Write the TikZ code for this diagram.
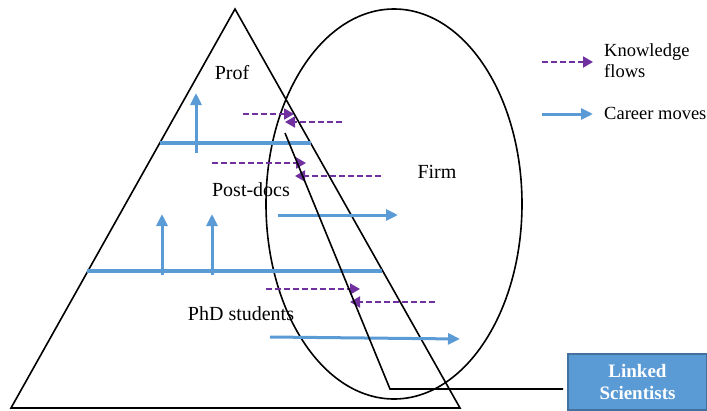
\documentclass[tikz,border=0pt]{standalone}
\usepackage{fontspec}
\setmainfont{Liberation Serif}
\usetikzlibrary{arrows.meta,shapes.geometric}
\definecolor{cblue}{HTML}{5B9BD5}
\definecolor{cblueedge}{HTML}{41719C}
\definecolor{cpurple}{HTML}{7030A0}
\tikzset{
  outline/.style={draw=black, line width=1.6pt},
  career/.style={draw=cblue, line width=3pt, -{Triangle[length=12pt,width=11pt]}},
  level/.style={draw=cblue, line width=3.2pt},
  know/.style={draw=cpurple, line width=2pt, dash pattern=on 6pt off 3pt, -{Triangle[length=10pt,width=11pt]}},
  lbl/.style={font=\fontsize{20}{22}\selectfont, inner sep=0pt},
  leg/.style={font=\fontsize{18.5}{21}\selectfont, inner sep=0pt, align=left, anchor=west},
  linkbox/.style={draw=cblueedge, fill=cblue, line width=1.5pt, minimum width=139pt, minimum height=56pt, inner sep=0pt, text=white, font=\bfseries\fontsize{19}{22}\selectfont, align=center}
}
\begin{document}
\begin{tikzpicture}[x=1pt,y=-1pt]
\useasboundingbox (0,0) rectangle (707,410);
% pyramid
\coordinate (apex) at (235,9);
\coordinate (bl) at (11,408);
\coordinate (br) at (460,408);
\draw[outline, line join=miter] (apex) -- (bl) -- (br) -- cycle;
% firm ellipse
\node[ellipse, draw=black, line width=1.6pt, minimum width=256pt, minimum height=390pt, inner sep=0pt] (firm) at (394,204) {};
% level lines
\coordinate (l1a) at (160,143); \coordinate (l1b) at (311,143);
\coordinate (l2a) at (87,271); \coordinate (l2b) at (382,271);
\draw[level] (l1a) -- (l1b);
\draw[level] (l2a) -- (l2b);
% vertical career moves
\coordinate (v1a) at (196,153); \coordinate (v1b) at (196,93);
\coordinate (v2a) at (162,275); \coordinate (v2b) at (162,214);
\coordinate (v3a) at (212,275); \coordinate (v3b) at (212,214);
\draw[career] (v1a) -- (v1b);
\draw[career] (v2a) -- (v2b);
\draw[career] (v3a) -- (v3b);
% horizontal career moves
\coordinate (h1a) at (278,215); \coordinate (h1b) at (398,215);
\coordinate (h2a) at (270,337); \coordinate (h2b) at (460,339);
\draw[career] (h1a) -- (h1b);
\draw[career] (h2a) -- (h2b);
% knowledge flows
\coordinate (k1a) at (243,114); \coordinate (k1b) at (294,114);
\coordinate (k2a) at (342,122); \coordinate (k2b) at (285,122);
\coordinate (k3a) at (212,163); \coordinate (k3b) at (306,163);
\coordinate (k4a) at (381,176); \coordinate (k4b) at (295,176);
\coordinate (k5a) at (266,289); \coordinate (k5b) at (360,289);
\coordinate (k6a) at (435,302); \coordinate (k6b) at (350,302);
\draw[know] (k1a) -- (k1b);
\draw[know] (k2a) -- (k2b);
\draw[know] (k3a) -- (k3b);
\draw[know] (k4a) -- (k4b);
\draw[know] (k5a) -- (k5b);
\draw[know] (k6a) -- (k6b);
% labels
\node[lbl] (prof) at (232,73) {Prof};
\node[lbl] (postdocs) at (251,190) {Post-docs};
\node[lbl] (phd) at (241,314) {PhD students};
\node[lbl] (firmlbl) at (437,172) {Firm};
% legend
\coordinate (lk1) at (542,62); \coordinate (lk2) at (593,62);
\draw[know] (lk1) -- (lk2);
\node[leg] (legk) at (604,61) {Knowledge\\flows};
\coordinate (lc1) at (542,114); \coordinate (lc2) at (593,114);
\draw[career] (lc1) -- (lc2);
\node[leg] (legc) at (604,113) {Career moves};
% linked scientists
\node[linkbox] (linked) at (637.5,382) {Linked\\Scientists};
\coordinate (ls1) at (285,133);
\coordinate (ls2) at (390,389);
\coordinate (ls3) at (563,389);
\draw[outline] (ls1) -- (ls2) -- (ls3);
\end{tikzpicture}
\end{document}
